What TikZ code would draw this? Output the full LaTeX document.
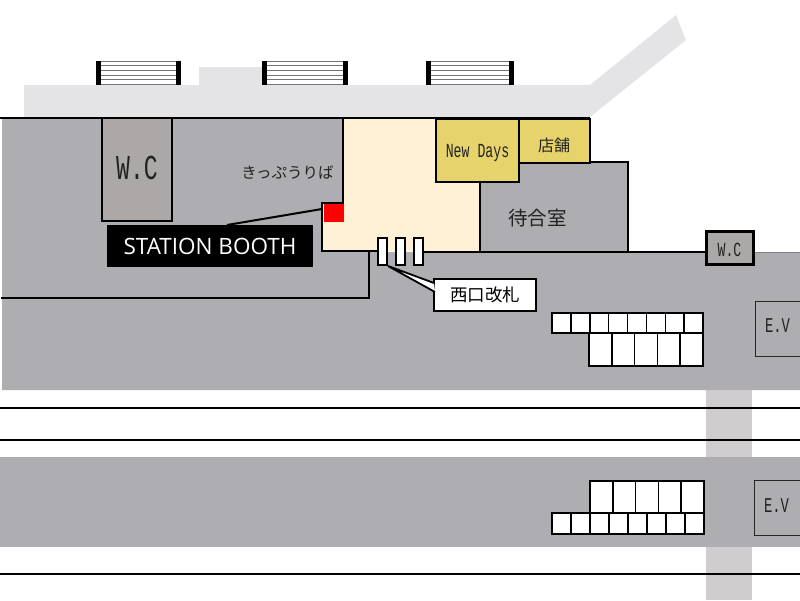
\documentclass[tikz,border=0pt]{standalone}
\usepackage{fontspec}
\setmainfont{Open Sans}
\newfontfamily\jp{Noto Sans CJK JP}
\newfontfamily\gothic[FakeStretch=0.66]{Liberation Mono}
\definecolor{floorgray}{HTML}{ADADB2}
\definecolor{pale}{HTML}{E4E3E5}
\definecolor{strip}{HTML}{CFCDCE}
\definecolor{cream}{HTML}{FEF1D5}
\definecolor{shop}{HTML}{E6D36B}
\definecolor{wcgray}{HTML}{ACA8A8}
\definecolor{txt}{HTML}{222222}
\tikzset{
  wall/.style={draw=black,line width=2pt},
  box/.style={rectangle,inner sep=0pt,outer sep=0pt,text=txt},
  walled/.style={box,draw=black,line width=2pt},
  cell/.style={box,draw=black,fill=white,line width=1.5pt,minimum width=#1},
  barbk/.style={fill=black,draw=none,box,minimum width=5pt,minimum height=24pt},
  rail/.style={draw=black,line width=2pt},
  tread/.style={draw=black!55,line width=0.5pt},
}
\newcommand{\stairs}[3]{% name, x1, x2
  \foreach \yy in {61,65,70,75,79,84.5}{\draw[tread] (#2,\yy) -- (#3,\yy);}
  \node[barbk] (#1l) at (#2+2.5,73) {};
  \node[barbk] (#1r) at (#3-2.5,73) {};
}
\begin{document}
\begin{tikzpicture}[x=1pt,y=-1pt]
\useasboundingbox (0,0) rectangle (800,600);
% light concourse
\fill[pale] (24,85) -- (199,85) -- (199,67) -- (262,67) -- (262,85) -- (590,85) -- (676,15) -- (686,40) -- (590,117) -- (590,118) -- (24,118) -- cycle;
\stairs{sa}{96}{181}
\stairs{sb}{262}{348}
\stairs{sc}{426}{514}
% pale strip
\fill[strip] (706,390) rectangle (752,600);
% floors
\fill[floorgray] (2,118) -- (343,118) -- (343,203) -- (322,203) -- (322,252) -- (800,252) -- (800,390) -- (2,390) -- cycle;
\fill[floorgray] (480,163) rectangle (628,252);
\fill[floorgray] (0,457) rectangle (800,547);
% cream hall
\fill[cream] (343,119) -- (480,119) -- (480,251) -- (322,251) -- (322,203) -- (343,203) -- cycle;
% walls
\draw[wall] (0,118) -- (590,118);
\draw[wall] (343,118) -- (343,203) -- (322,203) -- (322,251) -- (378,251);
\draw[wall] (369,251) -- (369,298) -- (1,298);
\draw[wall] (480,182) -- (480,252);
\draw[wall] (519,162) -- (628,162) -- (628,252);
\draw[wall] (423,251.5) -- (705,251.5);
\draw[floorgray!75!black,line width=1pt] (754,252) -- (800,252);
% rails
\draw[rail] (0,407.5) -- (800,407.5);
\draw[rail] (0,439.5) -- (800,439.5);
\draw[rail] (0,574) -- (800,574);
% rooms
\node[walled,fill=wcgray,minimum width=70pt,minimum height=103pt] (wc1) at (137,169.5) {};
\node[box,font=\gothic\fontsize{35}{35}\selectfont] (wc1t) at (137,167.5) {W.C};
\node[walled,fill=shop,minimum width=83pt,minimum height=63pt] (newdays) at (477.5,150.5) {};
\node[box,font=\gothic\fontsize{20}{20}\selectfont] (newdayst) at (477.5,153) {New Days};
\node[walled,fill=shop,minimum width=71pt,minimum height=44pt] (shopb) at (554.5,141) {};
\node[box,font=\jp\fontsize{16}{16}\selectfont] (shopbt) at (554,145) {店舗};
\node[box,font=\jp\fontsize{19.5}{20}\selectfont] (wait) at (537.5,218) {待合室};
\node[box,draw=black,line width=3pt,fill=wcgray,minimum width=47pt,minimum height=33pt] (wc2) at (729.5,248) {};
\node[box,font=\gothic\fontsize{20}{20}\selectfont] (wc2t) at (729.5,249.5) {W.C};
\node[box,draw=black!85,line width=0.9pt,minimum width=60pt,minimum height=55pt] (ev1) at (785.5,328.5) {};
\node[box,font=\gothic\fontsize{21}{21}\selectfont] (ev1t) at (777.5,326) {E.V};
\node[box,draw=black!85,line width=0.9pt,minimum width=60pt,minimum height=55pt] (ev2) at (784,507.5) {};
\node[box,font=\gothic\fontsize{21}{21}\selectfont] (ev2t) at (776.5,506) {E.V};
\node[box,font=\jp\fontsize{15.5}{16}\selectfont] (kippu) at (287.5,173) {きっぷうりば};
% booth
\node[box,fill=red,minimum width=20pt,minimum height=18pt] (red) at (334,213) {};
\coordinate (lineend) at (322,209);
\node[box,fill=black,text=white,minimum width=206pt,minimum height=42pt,font=\fontsize{22.5}{23}\selectfont] (booth) at (210,246) {STATION BOOTH};
\coordinate (boothtop) at (227,225);
\draw[black,line width=2pt] (boothtop) -- (lineend);
% gates
\foreach \n/\cx in {g1/382.5,g2/400.5,g3/418}{
  \node[box,draw=black,fill=white,line width=2pt,minimum width=9pt,minimum height=27pt] (\n) at (\cx,251.5) {};
}
% callout
\coordinate (tailtip) at (388,266);
\node[box,draw=black,fill=white,line width=2.2pt,minimum width=102pt,minimum height=32pt,font=\jp\fontsize{17.5}{18}\selectfont,text=black] (call) at (485,295) {西口改札};
\coordinate (ca) at (434,283);
\coordinate (cb) at (435,292);
\fill[white] (ca) -- (tailtip) -- (cb) -- cycle;
\draw[black,line width=1.8pt] (ca) -- (tailtip) -- (cb);
% upper ticket blocks
\foreach \i in {0,...,7}{
  \node[cell=18.875pt,minimum height=20pt] (ua\i) at ({552+18.875*(\i+0.5)},323) {};
}
\foreach \i in {0,...,4}{
  \node[cell=22.8pt,minimum height=33pt] (ub\i) at ({589+22.8*(\i+0.5)},349.5) {};
}
% lower ticket blocks
\foreach \i in {0,...,4}{
  \node[cell=22.8pt,minimum height=32pt] (lb\i) at ({590+22.8*(\i+0.5)},497) {};
}
\foreach \i in {0,...,7}{
  \node[cell=19pt,minimum height=21pt] (la\i) at ({552+19*(\i+0.5)},523.5) {};
}
\end{tikzpicture}
\end{document}
